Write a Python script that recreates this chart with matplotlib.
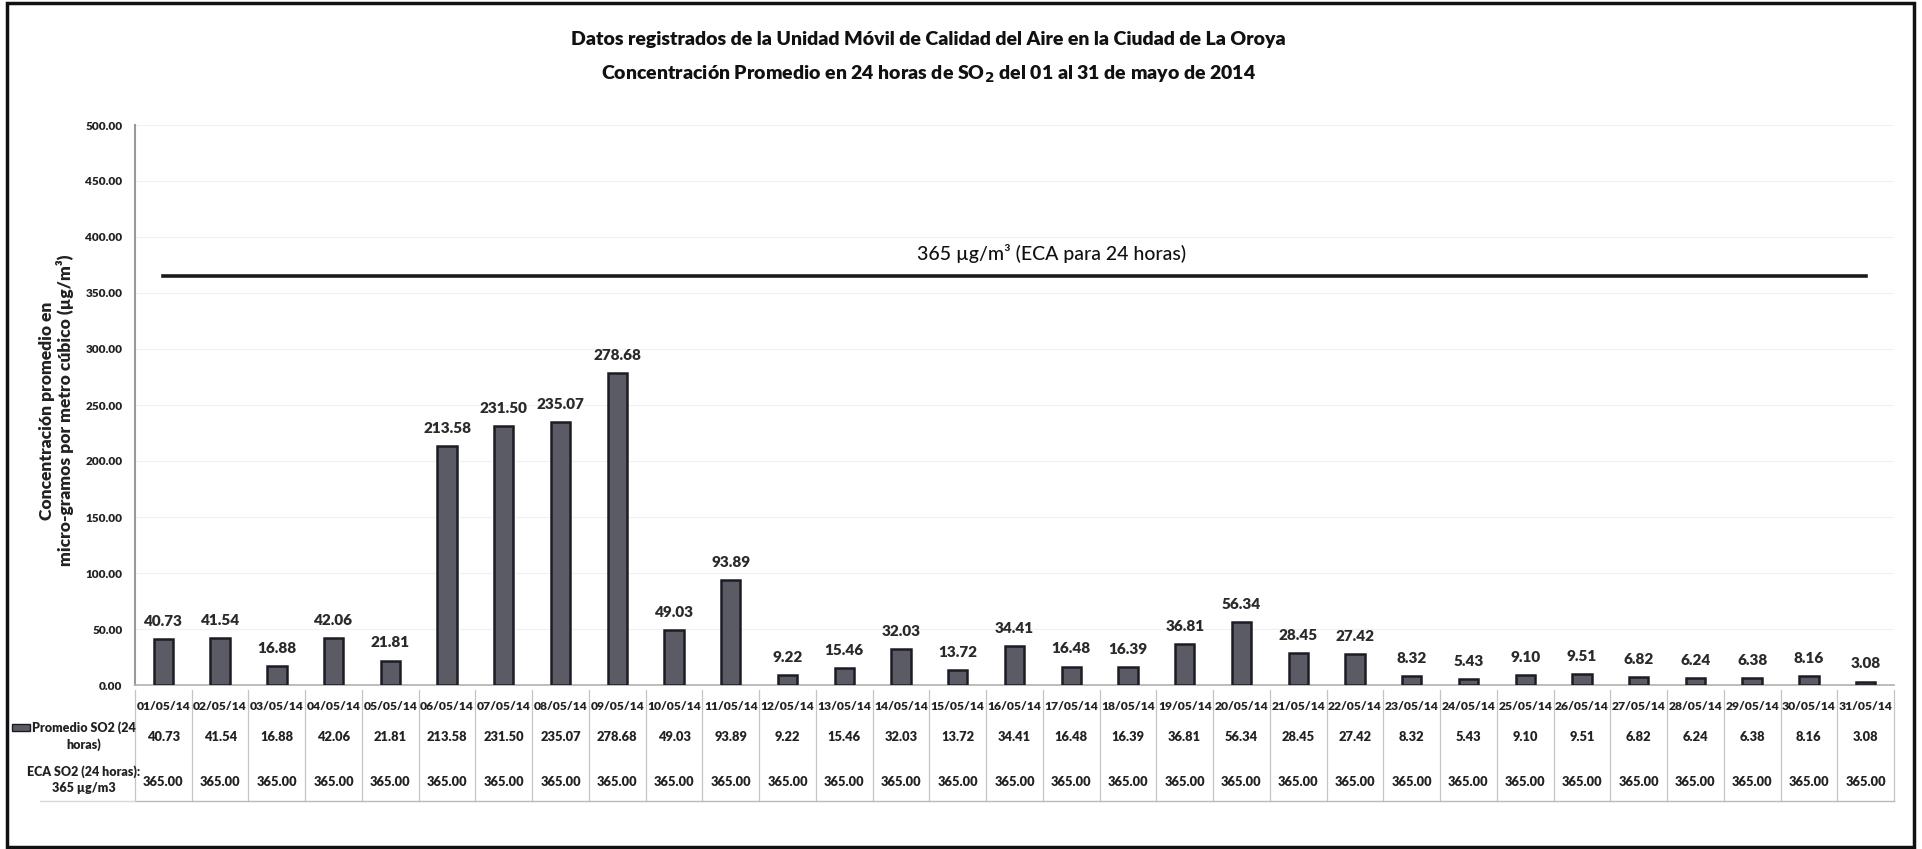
import matplotlib
matplotlib.use("Agg")
import matplotlib.pyplot as plt
import matplotlib.transforms as mtransforms
from matplotlib.patches import Rectangle

plt.rcParams['font.family'] = ['Lato', 'DejaVu Sans']

dates = ["01/05/14", "02/05/14", "03/05/14", "04/05/14", "05/05/14", "06/05/14", "07/05/14",
         "08/05/14", "09/05/14", "10/05/14", "11/05/14", "12/05/14", "13/05/14", "14/05/14",
         "15/05/14", "16/05/14", "17/05/14", "18/05/14", "19/05/14", "20/05/14", "21/05/14",
         "22/05/14", "23/05/14", "24/05/14", "25/05/14", "26/05/14", "27/05/14", "28/05/14",
         "29/05/14", "30/05/14", "31/05/14"]
so2 = [40.73, 41.54, 16.88, 42.06, 21.81, 213.58, 231.50, 235.07, 278.68, 49.03, 93.89,
       9.22, 15.46, 32.03, 13.72, 34.41, 16.48, 16.39, 36.81, 56.34, 28.45, 27.42, 8.32,
       5.43, 9.10, 9.51, 6.82, 6.24, 6.38, 8.16, 3.08]
eca = [365.00] * 31
yticks = [0, 50, 100, 150, 200, 250, 300, 350, 400, 450, 500]

W, H = 1922, 849
fig = plt.figure(figsize=(W / 100, H / 100), dpi=100)
fig.patch.set_facecolor('white')

def fy(p):
    return 1 - p / H

ax_l, ax_r, ax_t, ax_b = 135, 1894, 125, 685
ax = fig.add_axes([ax_l / W, fy(ax_b), (ax_r - ax_l) / W, (ax_b - ax_t) / H])
x = list(range(len(dates)))
ax.bar(x, so2, width=0.34, color='#5b5b66', edgecolor='#1c1c24', linewidth=1.8, zorder=3)
ax.plot(x, eca, color='#1a1a1a', linewidth=2.6, zorder=4)
ax.set_xlim(-0.5, len(dates) - 0.5)
ax.set_ylim(0, 500)
ax.set_yticks(yticks)
ax.set_yticklabels([f"{v:.2f}" for v in yticks], fontsize=8.5, fontweight='heavy', color='#222')
ax.tick_params(axis='y', length=0, pad=9)
ax.set_xticks([])
ax.grid(axis='y', color='#f0f0f0', linewidth=0.8, zorder=0)
for s in ['top', 'right']:
    ax.spines[s].set_visible(False)
ax.spines['left'].set_color('#9a9a9a')
ax.spines['left'].set_linewidth(1.5)
ax.spines['bottom'].set_color('#b0b0b0')
ax.spines['bottom'].set_linewidth(1.2)

for xi, v in zip(x, so2):
    ax.annotate(f"{v:.2f}", (xi, v), xytext=(0, 8), textcoords='offset points',
                ha='center', va='bottom', fontsize=11, fontweight='heavy', color='#2a2a2a')

ax.text(15.66, 385, "365 µg/m³ (ECA para 24 horas)", ha='center', va='center',
        fontsize=14, fontweight='medium', color='#111')

ax.set_ylabel("Concentración promedio en\nmicro-gramos por metro cúbico (µg/m³)",
              fontsize=12.5, fontweight='heavy', color='#222', linespacing=1.05)
ax.yaxis.set_label_coords((74 - ax_l) / (ax_r - ax_l), 0.49)

# Title
fig.text(928 / W, fy(40), "Datos registrados de la Unidad Móvil de Calidad del Aire en la Ciudad de La Oroya",
         ha='center', va='center', fontsize=14, fontweight='heavy', color='#111')
fig.text(928 / W, fy(74), "Concentración Promedio en 24 horas de SO$_\\mathbf{2}$ del 01 al 31 de mayo de 2014",
         ha='center', va='center', fontsize=14, fontweight='heavy', color='#111')

# Data table
tr = mtransforms.blended_transform_factory(ax.transData, fig.transFigure)
for xi in range(len(dates) + 1):
    fig.add_artist(plt.Line2D([xi - 0.5, xi - 0.5], [fy(690), fy(801)], transform=tr,
                              color='#c4c4c4', linewidth=0.9))
fig.add_artist(plt.Line2D([ax_l / W, ax_r / W], [fy(801), fy(801)], transform=fig.transFigure,
                          color='#b8b8b8', linewidth=1.0))
fig.add_artist(plt.Line2D([40 / W, ax_l / W], [fy(801), fy(801)], transform=fig.transFigure,
                          color='#d8d8d8', linewidth=1.0))
for xi, d, v, e in zip(x, dates, so2, eca):
    fig.text(xi, fy(707), d, transform=tr, ha='center', va='center', fontsize=8.7,
             fontweight='heavy', color='#222')
    fig.text(xi, fy(737), f"{v:.2f}", transform=tr, ha='center', va='center', fontsize=9.3,
             fontweight='heavy', color='#222')
    fig.text(xi, fy(782), f"{e:.2f}", transform=tr, ha='center', va='center', fontsize=9.3,
             fontweight='heavy', color='#222')

fig.add_artist(Rectangle((12 / W, fy(731)), 18 / W, 7 / H, transform=fig.transFigure,
                         facecolor='#5b5b66', edgecolor='#1c1c24', linewidth=1))
fig.text(84 / W, fy(736), "Promedio SO2 (24\nhoras)", ha='center', va='center', fontsize=9,
         fontweight='heavy', color='#222', multialignment='center', linespacing=1.4)
fig.text(84 / W, fy(780), "ECA SO2 (24 horas):\n365 µg/m3", ha='center', va='center', fontsize=9,
         fontweight='heavy', color='#222', multialignment='center', linespacing=1.4)

# outer frame
fig.add_artist(Rectangle((7 / W, fy(847)), (1914 - 7) / W, (847 - 3) / H, transform=fig.transFigure,
                         fill=False, edgecolor='#111', linewidth=2.5))

fig.savefig("out.png", dpi=100, facecolor='white')
